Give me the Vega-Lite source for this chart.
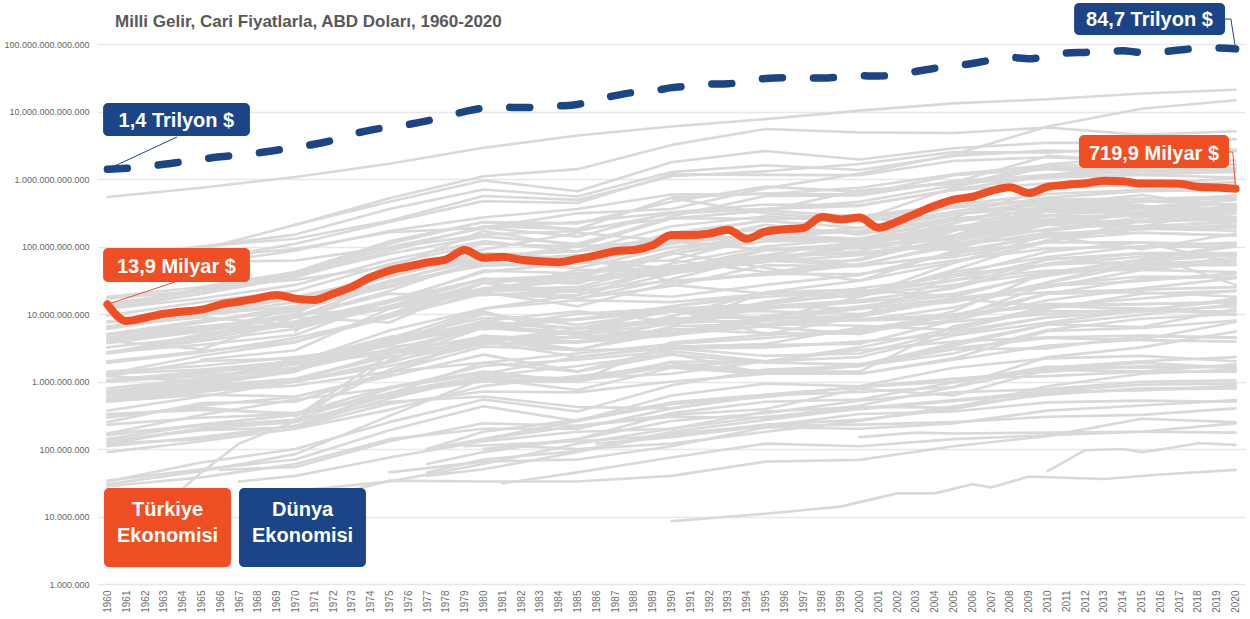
{
"$schema":"https://vega.github.io/schema/vega-lite/v6.json",
"width":1147,"height":540,
"autosize":{"type":"none"},
"padding":{"left":98,"top":44,"right":5,"bottom":35},
"background":"white",
"config":{
"locale":{"number":{"decimal":",","thousands":".","grouping":[3],"currency":["","$"]}},
"view":{"stroke":null},
"font":"Liberation Sans, Arial, sans-serif",
"axis":{"domain":false,"ticks":false,"title":null},
"axisX":{"labelOverlap":false,"labelFlush":false,"labelBound":false,"labelSeparation":0,"tickCount":100},
"axisY":{"labelOverlap":false}
},
"title":{"text":"Milli Gelir, Cari Fiyatlarla, ABD Doları, 1960-2020","anchor":"start","frame":"group","dx":17,"offset":-41,"baseline":"alphabetic","fontSize":17,"fontWeight":"bold","color":"#595959","font":"Liberation Sans, Arial, sans-serif"},
"datasets":{
"gray":[
{"c":"US","yr":1960,"v":5.4e11},{"c":"US","yr":1965,"v":7.4e11},{"c":"US","yr":1970,"v":1.07e12},{"c":"US","yr":1975,"v":1.68e12},{"c":"US","yr":1980,"v":2.9e12},{"c":"US","yr":1985,"v":4.4e12},{"c":"US","yr":1990,"v":6.0e12},{"c":"US","yr":1995,"v":7.7e12},{"c":"US","yr":2000,"v":1.03e13},{"c":"US","yr":2005,"v":1.32e13},{"c":"US","yr":2010,"v":1.52e13},{"c":"US","yr":2015,"v":1.85e13},{"c":"US","yr":2020,"v":2.1e13},
{"c":"CN","yr":1960,"v":6.0e10},{"c":"CN","yr":1965,"v":7.0e10},{"c":"CN","yr":1970,"v":9.2e10},{"c":"CN","yr":1975,"v":1.63e11},{"c":"CN","yr":1980,"v":1.9e11},{"c":"CN","yr":1985,"v":3.1e11},{"c":"CN","yr":1990,"v":3.6e11},{"c":"CN","yr":1995,"v":7.3e11},{"c":"CN","yr":2000,"v":1.2e12},{"c":"CN","yr":2005,"v":2.3e12},{"c":"CN","yr":2010,"v":6.0e12},{"c":"CN","yr":2015,"v":1.1e13},{"c":"CN","yr":2020,"v":1.47e13},
{"c":"JP","yr":1960,"v":4.4e10},{"c":"JP","yr":1965,"v":9.1e10},{"c":"JP","yr":1970,"v":2.1e11},{"c":"JP","yr":1975,"v":5.2e11},{"c":"JP","yr":1980,"v":1.1e12},{"c":"JP","yr":1985,"v":1.4e12},{"c":"JP","yr":1990,"v":3.2e12},{"c":"JP","yr":1995,"v":5.5e12},{"c":"JP","yr":2000,"v":4.9e12},{"c":"JP","yr":2005,"v":4.8e12},{"c":"JP","yr":2010,"v":5.8e12},{"c":"JP","yr":2015,"v":4.5e12},{"c":"JP","yr":2020,"v":5.1e12},
{"c":"DE","yr":1970,"v":2.1e11},{"c":"DE","yr":1975,"v":4.6e11},{"c":"DE","yr":1980,"v":9.5e11},{"c":"DE","yr":1985,"v":6.6e11},{"c":"DE","yr":1990,"v":1.77e12},{"c":"DE","yr":1995,"v":2.6e12},{"c":"DE","yr":2000,"v":1.95e12},{"c":"DE","yr":2005,"v":2.85e12},{"c":"DE","yr":2010,"v":3.45e12},{"c":"DE","yr":2015,"v":3.4e12},{"c":"DE","yr":2020,"v":3.9e12},
{"c":"GB","yr":1960,"v":7.3e10},{"c":"GB","yr":1965,"v":1.0e11},{"c":"GB","yr":1970,"v":1.3e11},{"c":"GB","yr":1975,"v":2.4e11},{"c":"GB","yr":1980,"v":5.6e11},{"c":"GB","yr":1985,"v":4.9e11},{"c":"GB","yr":1990,"v":1.1e12},{"c":"GB","yr":1995,"v":1.3e12},{"c":"GB","yr":2000,"v":1.67e12},{"c":"GB","yr":2005,"v":2.5e12},{"c":"GB","yr":2010,"v":2.45e12},{"c":"GB","yr":2015,"v":2.9e12},{"c":"GB","yr":2020,"v":2.7e12},
{"c":"FR","yr":1960,"v":6.2e10},{"c":"FR","yr":1965,"v":1.0e11},{"c":"FR","yr":1970,"v":1.5e11},{"c":"FR","yr":1975,"v":3.6e11},{"c":"FR","yr":1980,"v":7.0e11},{"c":"FR","yr":1985,"v":5.5e11},{"c":"FR","yr":1990,"v":1.27e12},{"c":"FR","yr":1995,"v":1.6e12},{"c":"FR","yr":2000,"v":1.36e12},{"c":"FR","yr":2005,"v":2.2e12},{"c":"FR","yr":2010,"v":2.65e12},{"c":"FR","yr":2015,"v":2.45e12},{"c":"FR","yr":2020,"v":2.65e12},
{"c":"IN","yr":1960,"v":3.7e10},{"c":"IN","yr":1965,"v":5.9e10},{"c":"IN","yr":1970,"v":6.2e10},{"c":"IN","yr":1975,"v":9.8e10},{"c":"IN","yr":1980,"v":1.86e11},{"c":"IN","yr":1985,"v":2.3e11},{"c":"IN","yr":1990,"v":3.2e11},{"c":"IN","yr":1995,"v":3.6e11},{"c":"IN","yr":2000,"v":4.6e11},{"c":"IN","yr":2005,"v":8.0e11},{"c":"IN","yr":2010,"v":1.65e12},{"c":"IN","yr":2015,"v":2.1e12},{"c":"IN","yr":2020,"v":2.6e12},
{"c":"IT","yr":1960,"v":4.0e10},{"c":"IT","yr":1965,"v":6.3e10},{"c":"IT","yr":1970,"v":1.1e11},{"c":"IT","yr":1975,"v":2.3e11},{"c":"IT","yr":1980,"v":4.7e11},{"c":"IT","yr":1985,"v":4.4e11},{"c":"IT","yr":1990,"v":1.17e12},{"c":"IT","yr":1995,"v":1.15e12},{"c":"IT","yr":2000,"v":1.14e12},{"c":"IT","yr":2005,"v":1.85e12},{"c":"IT","yr":2010,"v":2.1e12},{"c":"IT","yr":2015,"v":1.83e12},{"c":"IT","yr":2020,"v":1.87e12},
{"c":"BR","yr":1960,"v":1.7e10},{"c":"BR","yr":1965,"v":2.2e10},{"c":"BR","yr":1970,"v":4.2e10},{"c":"BR","yr":1975,"v":1.2e11},{"c":"BR","yr":1980,"v":2.3e11},{"c":"BR","yr":1985,"v":2.2e11},{"c":"BR","yr":1990,"v":4.6e11},{"c":"BR","yr":1995,"v":7.7e11},{"c":"BR","yr":2000,"v":6.5e11},{"c":"BR","yr":2005,"v":8.9e11},{"c":"BR","yr":2010,"v":2.2e12},{"c":"BR","yr":2015,"v":1.8e12},{"c":"BR","yr":2020,"v":1.4e12},
{"c":"CA","yr":1960,"v":4.0e10},{"c":"CA","yr":1965,"v":5.5e10},{"c":"CA","yr":1970,"v":8.7e10},{"c":"CA","yr":1975,"v":1.7e11},{"c":"CA","yr":1980,"v":2.7e11},{"c":"CA","yr":1985,"v":3.6e11},{"c":"CA","yr":1990,"v":5.9e11},{"c":"CA","yr":1995,"v":6.0e11},{"c":"CA","yr":2000,"v":7.4e11},{"c":"CA","yr":2005,"v":1.17e12},{"c":"CA","yr":2010,"v":1.6e12},{"c":"CA","yr":2015,"v":1.55e12},{"c":"CA","yr":2020,"v":1.63e12},
{"c":"KR","yr":1960,"v":4.0e9},{"c":"KR","yr":1965,"v":3.0e9},{"c":"KR","yr":1970,"v":9.0e9},{"c":"KR","yr":1975,"v":2.2e10},{"c":"KR","yr":1980,"v":6.5e10},{"c":"KR","yr":1985,"v":1.0e11},{"c":"KR","yr":1990,"v":2.8e11},{"c":"KR","yr":1995,"v":5.6e11},{"c":"KR","yr":2000,"v":5.7e11},{"c":"KR","yr":2005,"v":9.3e11},{"c":"KR","yr":2010,"v":1.15e12},{"c":"KR","yr":2015,"v":1.47e12},{"c":"KR","yr":2020,"v":1.65e12},
{"c":"RU","yr":1990,"v":5.2e11},{"c":"RU","yr":1995,"v":3.1e11},{"c":"RU","yr":2000,"v":2.5e11},{"c":"RU","yr":2005,"v":7.5e11},{"c":"RU","yr":2010,"v":1.5e12},{"c":"RU","yr":2015,"v":1.33e12},{"c":"RU","yr":2020,"v":1.45e12},
{"c":"AU","yr":1960,"v":1.8e10},{"c":"AU","yr":1965,"v":2.5e10},{"c":"AU","yr":1970,"v":4.2e10},{"c":"AU","yr":1975,"v":9.5e10},{"c":"AU","yr":1980,"v":1.5e11},{"c":"AU","yr":1985,"v":1.7e11},{"c":"AU","yr":1990,"v":3.05e11},{"c":"AU","yr":1995,"v":3.6e11},{"c":"AU","yr":2000,"v":4.0e11},{"c":"AU","yr":2005,"v":7.0e11},{"c":"AU","yr":2010,"v":1.1e12},{"c":"AU","yr":2015,"v":1.3e12},{"c":"AU","yr":2020,"v":1.3e12},
{"c":"MX","yr":1960,"v":1.3e10},{"c":"MX","yr":1965,"v":2.0e10},{"c":"MX","yr":1970,"v":3.5e10},{"c":"MX","yr":1975,"v":8.6e10},{"c":"MX","yr":1980,"v":2.0e11},{"c":"MX","yr":1985,"v":1.8e11},{"c":"MX","yr":1990,"v":2.6e11},{"c":"MX","yr":1995,"v":3.4e11},{"c":"MX","yr":2000,"v":6.8e11},{"c":"MX","yr":2005,"v":8.5e11},{"c":"MX","yr":2010,"v":1.05e12},{"c":"MX","yr":2015,"v":1.15e12},{"c":"MX","yr":2020,"v":1.05e12},
{"c":"ES","yr":1960,"v":1.2e10},{"c":"ES","yr":1965,"v":2.4e10},{"c":"ES","yr":1970,"v":4.0e10},{"c":"ES","yr":1975,"v":1.1e11},{"c":"ES","yr":1980,"v":2.3e11},{"c":"ES","yr":1985,"v":1.8e11},{"c":"ES","yr":1990,"v":5.3e11},{"c":"ES","yr":1995,"v":6.1e11},{"c":"ES","yr":2000,"v":5.9e11},{"c":"ES","yr":2005,"v":1.14e12},{"c":"ES","yr":2010,"v":1.4e12},{"c":"ES","yr":2015,"v":1.18e12},{"c":"ES","yr":2020,"v":1.27e12},
{"c":"NL","yr":1960,"v":1.2e10},{"c":"NL","yr":1965,"v":2.0e10},{"c":"NL","yr":1970,"v":3.8e10},{"c":"NL","yr":1975,"v":9.5e10},{"c":"NL","yr":1980,"v":1.9e11},{"c":"NL","yr":1985,"v":1.4e11},{"c":"NL","yr":1990,"v":3.2e11},{"c":"NL","yr":1995,"v":4.2e11},{"c":"NL","yr":2000,"v":4.1e11},{"c":"NL","yr":2005,"v":6.8e11},{"c":"NL","yr":2010,"v":8.6e11},{"c":"NL","yr":2015,"v":7.7e11},{"c":"NL","yr":2020,"v":9.0e11},
{"c":"SA","yr":1970,"v":5.5e9},{"c":"SA","yr":1975,"v":4.8e10},{"c":"SA","yr":1980,"v":1.7e11},{"c":"SA","yr":1985,"v":1.0e11},{"c":"SA","yr":1990,"v":1.2e11},{"c":"SA","yr":1995,"v":1.45e11},{"c":"SA","yr":2000,"v":1.9e11},{"c":"SA","yr":2005,"v":3.3e11},{"c":"SA","yr":2010,"v":5.3e11},{"c":"SA","yr":2015,"v":6.6e11},{"c":"SA","yr":2020,"v":6.9e11},
{"c":"CH","yr":1960,"v":9.5e9},{"c":"CH","yr":1965,"v":1.5e10},{"c":"CH","yr":1970,"v":2.2e10},{"c":"CH","yr":1975,"v":5.5e10},{"c":"CH","yr":1980,"v":1.1e11},{"c":"CH","yr":1985,"v":1.0e11},{"c":"CH","yr":1990,"v":2.6e11},{"c":"CH","yr":1995,"v":3.4e11},{"c":"CH","yr":2000,"v":2.8e11},{"c":"CH","yr":2005,"v":4.1e11},{"c":"CH","yr":2010,"v":6.0e11},{"c":"CH","yr":2015,"v":6.9e11},{"c":"CH","yr":2020,"v":7.3e11},
{"c":"ID","yr":1970,"v":9.0e9},{"c":"ID","yr":1975,"v":2.9e10},{"c":"ID","yr":1980,"v":7.2e10},{"c":"ID","yr":1985,"v":8.5e10},{"c":"ID","yr":1990,"v":1.1e11},{"c":"ID","yr":1995,"v":2.1e11},{"c":"ID","yr":2000,"v":1.5e11},{"c":"ID","yr":2005,"v":2.7e11},{"c":"ID","yr":2010,"v":7.2e11},{"c":"ID","yr":2015,"v":8.3e11},{"c":"ID","yr":2020,"v":1.03e12},
{"c":"SE","yr":1960,"v":1.4e10},{"c":"SE","yr":1965,"v":2.2e10},{"c":"SE","yr":1970,"v":3.7e10},{"c":"SE","yr":1975,"v":7.8e10},{"c":"SE","yr":1980,"v":1.4e11},{"c":"SE","yr":1985,"v":1.1e11},{"c":"SE","yr":1990,"v":2.6e11},{"c":"SE","yr":1995,"v":2.6e11},{"c":"SE","yr":2000,"v":2.6e11},{"c":"SE","yr":2005,"v":3.9e11},{"c":"SE","yr":2010,"v":5.0e11},{"c":"SE","yr":2015,"v":5.1e11},{"c":"SE","yr":2020,"v":5.5e11},
{"c":"BE","yr":1960,"v":1.2e10},{"c":"BE","yr":1965,"v":1.7e10},{"c":"BE","yr":1970,"v":2.7e10},{"c":"BE","yr":1975,"v":6.3e10},{"c":"BE","yr":1980,"v":1.2e11},{"c":"BE","yr":1985,"v":8.5e10},{"c":"BE","yr":1990,"v":2.0e11},{"c":"BE","yr":1995,"v":2.8e11},{"c":"BE","yr":2000,"v":2.3e11},{"c":"BE","yr":2005,"v":3.8e11},{"c":"BE","yr":2010,"v":4.8e11},{"c":"BE","yr":2015,"v":4.6e11},{"c":"BE","yr":2020,"v":5.2e11},
{"c":"AR","yr":1965,"v":2.5e10},{"c":"AR","yr":1970,"v":3.2e10},{"c":"AR","yr":1975,"v":5.1e10},{"c":"AR","yr":1980,"v":7.5e10},{"c":"AR","yr":1985,"v":8.5e10},{"c":"AR","yr":1990,"v":1.4e11},{"c":"AR","yr":1995,"v":2.5e11},{"c":"AR","yr":2000,"v":2.8e11},{"c":"AR","yr":2005,"v":1.8e11},{"c":"AR","yr":2010,"v":4.2e11},{"c":"AR","yr":2015,"v":5.8e11},{"c":"AR","yr":2020,"v":3.8e11},
{"c":"PL","yr":1990,"v":6.3e10},{"c":"PL","yr":1995,"v":1.4e11},{"c":"PL","yr":2000,"v":1.7e11},{"c":"PL","yr":2005,"v":3.0e11},{"c":"PL","yr":2010,"v":4.7e11},{"c":"PL","yr":2015,"v":4.6e11},{"c":"PL","yr":2020,"v":5.7e11},
{"c":"IR","yr":1960,"v":4.0e9},{"c":"IR","yr":1965,"v":6.0e9},{"c":"IR","yr":1970,"v":1.0e10},{"c":"IR","yr":1975,"v":5.0e10},{"c":"IR","yr":1980,"v":9.0e10},{"c":"IR","yr":1985,"v":1.6e11},{"c":"IR","yr":1990,"v":1.2e11},{"c":"IR","yr":1995,"v":9.0e10},{"c":"IR","yr":2000,"v":1.1e11},{"c":"IR","yr":2005,"v":2.2e11},{"c":"IR","yr":2010,"v":4.8e11},{"c":"IR","yr":2015,"v":4.1e11},{"c":"IR","yr":2020,"v":2.3e11},
{"c":"NG","yr":1960,"v":4.0e9},{"c":"NG","yr":1965,"v":5.5e9},{"c":"NG","yr":1970,"v":1.2e10},{"c":"NG","yr":1975,"v":2.6e10},{"c":"NG","yr":1980,"v":6.0e10},{"c":"NG","yr":1985,"v":7.5e10},{"c":"NG","yr":1990,"v":3.0e10},{"c":"NG","yr":1995,"v":4.0e10},{"c":"NG","yr":2000,"v":6.5e10},{"c":"NG","yr":2005,"v":1.7e11},{"c":"NG","yr":2010,"v":3.5e11},{"c":"NG","yr":2015,"v":4.7e11},{"c":"NG","yr":2020,"v":4.2e11},
{"c":"ZA","yr":1960,"v":7.5e9},{"c":"ZA","yr":1965,"v":1.1e10},{"c":"ZA","yr":1970,"v":1.8e10},{"c":"ZA","yr":1975,"v":3.5e10},{"c":"ZA","yr":1980,"v":8.0e10},{"c":"ZA","yr":1985,"v":5.5e10},{"c":"ZA","yr":1990,"v":1.1e11},{"c":"ZA","yr":1995,"v":1.5e11},{"c":"ZA","yr":2000,"v":1.3e11},{"c":"ZA","yr":2005,"v":2.5e11},{"c":"ZA","yr":2010,"v":3.6e11},{"c":"ZA","yr":2015,"v":3.1e11},{"c":"ZA","yr":2020,"v":3.3e11},
{"c":"AT","yr":1960,"v":6.5e9},{"c":"AT","yr":1965,"v":9.5e9},{"c":"AT","yr":1970,"v":1.5e10},{"c":"AT","yr":1975,"v":3.8e10},{"c":"AT","yr":1980,"v":8.0e10},{"c":"AT","yr":1985,"v":6.5e10},{"c":"AT","yr":1990,"v":1.6e11},{"c":"AT","yr":1995,"v":2.4e11},{"c":"AT","yr":2000,"v":1.9e11},{"c":"AT","yr":2005,"v":3.0e11},{"c":"AT","yr":2010,"v":3.8e11},{"c":"AT","yr":2015,"v":3.7e11},{"c":"AT","yr":2020,"v":4.3e11},
{"c":"NO","yr":1960,"v":5.0e9},{"c":"NO","yr":1965,"v":7.5e9},{"c":"NO","yr":1970,"v":1.2e10},{"c":"NO","yr":1975,"v":3.1e10},{"c":"NO","yr":1980,"v":6.5e10},{"c":"NO","yr":1985,"v":6.5e10},{"c":"NO","yr":1990,"v":1.2e11},{"c":"NO","yr":1995,"v":1.5e11},{"c":"NO","yr":2000,"v":1.7e11},{"c":"NO","yr":2005,"v":3.0e11},{"c":"NO","yr":2010,"v":4.3e11},{"c":"NO","yr":2015,"v":3.9e11},{"c":"NO","yr":2020,"v":3.6e11},
{"c":"DK","yr":1960,"v":6.0e9},{"c":"DK","yr":1965,"v":1.0e10},{"c":"DK","yr":1970,"v":1.7e10},{"c":"DK","yr":1975,"v":3.8e10},{"c":"DK","yr":1980,"v":7.0e10},{"c":"DK","yr":1985,"v":6.0e10},{"c":"DK","yr":1990,"v":1.4e11},{"c":"DK","yr":1995,"v":1.8e11},{"c":"DK","yr":2000,"v":1.6e11},{"c":"DK","yr":2005,"v":2.6e11},{"c":"DK","yr":2010,"v":3.3e11},{"c":"DK","yr":2015,"v":3.1e11},{"c":"DK","yr":2020,"v":3.6e11},
{"c":"TH","yr":1960,"v":2.7e9},{"c":"TH","yr":1965,"v":4.3e9},{"c":"TH","yr":1970,"v":7.0e9},{"c":"TH","yr":1975,"v":1.5e10},{"c":"TH","yr":1980,"v":3.2e10},{"c":"TH","yr":1985,"v":3.8e10},{"c":"TH","yr":1990,"v":8.5e10},{"c":"TH","yr":1995,"v":1.6e11},{"c":"TH","yr":2000,"v":1.2e11},{"c":"TH","yr":2005,"v":1.8e11},{"c":"TH","yr":2010,"v":3.3e11},{"c":"TH","yr":2015,"v":3.8e11},{"c":"TH","yr":2020,"v":4.9e11},
{"c":"EG","yr":1965,"v":5.1e9},{"c":"EG","yr":1970,"v":7.6e9},{"c":"EG","yr":1975,"v":1.2e10},{"c":"EG","yr":1980,"v":2.1e10},{"c":"EG","yr":1985,"v":4.5e10},{"c":"EG","yr":1990,"v":4.2e10},{"c":"EG","yr":1995,"v":5.9e10},{"c":"EG","yr":2000,"v":9.9e10},{"c":"EG","yr":2005,"v":9.0e10},{"c":"EG","yr":2010,"v":2.2e11},{"c":"EG","yr":2015,"v":3.3e11},{"c":"EG","yr":2020,"v":3.6e11},
{"c":"PK","yr":1960,"v":3.7e9},{"c":"PK","yr":1965,"v":5.5e9},{"c":"PK","yr":1970,"v":1.0e10},{"c":"PK","yr":1975,"v":1.2e10},{"c":"PK","yr":1980,"v":2.4e10},{"c":"PK","yr":1985,"v":3.1e10},{"c":"PK","yr":1990,"v":4.0e10},{"c":"PK","yr":1995,"v":6.0e10},{"c":"PK","yr":2000,"v":7.4e10},{"c":"PK","yr":2005,"v":1.1e11},{"c":"PK","yr":2010,"v":1.8e11},{"c":"PK","yr":2015,"v":2.7e11},{"c":"PK","yr":2020,"v":3.0e11},
{"c":"CO","yr":1960,"v":4.0e9},{"c":"CO","yr":1965,"v":5.8e9},{"c":"CO","yr":1970,"v":7.2e9},{"c":"CO","yr":1975,"v":1.3e10},{"c":"CO","yr":1980,"v":3.3e10},{"c":"CO","yr":1985,"v":3.4e10},{"c":"CO","yr":1990,"v":4.7e10},{"c":"CO","yr":1995,"v":9.2e10},{"c":"CO","yr":2000,"v":9.9e10},{"c":"CO","yr":2005,"v":1.45e11},{"c":"CO","yr":2010,"v":2.8e11},{"c":"CO","yr":2015,"v":2.9e11},{"c":"CO","yr":2020,"v":2.7e11},
{"c":"MY","yr":1960,"v":1.9e9},{"c":"MY","yr":1965,"v":2.8e9},{"c":"MY","yr":1970,"v":3.9e9},{"c":"MY","yr":1975,"v":9.5e9},{"c":"MY","yr":1980,"v":2.4e10},{"c":"MY","yr":1985,"v":3.1e10},{"c":"MY","yr":1990,"v":4.4e10},{"c":"MY","yr":1995,"v":8.8e10},{"c":"MY","yr":2000,"v":9.4e10},{"c":"MY","yr":2005,"v":1.4e11},{"c":"MY","yr":2010,"v":2.5e11},{"c":"MY","yr":2015,"v":2.9e11},{"c":"MY","yr":2020,"v":3.3e11},
{"c":"PH","yr":1960,"v":6.5e9},{"c":"PH","yr":1965,"v":9.0e9},{"c":"PH","yr":1970,"v":6.8e9},{"c":"PH","yr":1975,"v":1.5e10},{"c":"PH","yr":1980,"v":3.3e10},{"c":"PH","yr":1985,"v":3.1e10},{"c":"PH","yr":1990,"v":4.4e10},{"c":"PH","yr":1995,"v":7.4e10},{"c":"PH","yr":2000,"v":8.1e10},{"c":"PH","yr":2005,"v":1.07e11},{"c":"PH","yr":2010,"v":2.1e11},{"c":"PH","yr":2015,"v":3.1e11},{"c":"PH","yr":2020,"v":3.8e11},
{"c":"CL","yr":1960,"v":4.0e9},{"c":"CL","yr":1965,"v":5.6e9},{"c":"CL","yr":1970,"v":9.0e9},{"c":"CL","yr":1975,"v":7.5e9},{"c":"CL","yr":1980,"v":2.9e10},{"c":"CL","yr":1985,"v":1.7e10},{"c":"CL","yr":1990,"v":3.3e10},{"c":"CL","yr":1995,"v":7.2e10},{"c":"CL","yr":2000,"v":7.8e10},{"c":"CL","yr":2005,"v":1.2e11},{"c":"CL","yr":2010,"v":2.2e11},{"c":"CL","yr":2015,"v":2.4e11},{"c":"CL","yr":2020,"v":2.5e11},
{"c":"FI","yr":1960,"v":5.0e9},{"c":"FI","yr":1965,"v":8.0e9},{"c":"FI","yr":1970,"v":1.1e10},{"c":"FI","yr":1975,"v":2.9e10},{"c":"FI","yr":1980,"v":5.2e10},{"c":"FI","yr":1985,"v":5.6e10},{"c":"FI","yr":1990,"v":1.4e11},{"c":"FI","yr":1995,"v":1.3e11},{"c":"FI","yr":2000,"v":1.26e11},{"c":"FI","yr":2005,"v":2.0e11},{"c":"FI","yr":2010,"v":2.5e11},{"c":"FI","yr":2015,"v":2.3e11},{"c":"FI","yr":2020,"v":2.7e11},
{"c":"GR","yr":1960,"v":4.5e9},{"c":"GR","yr":1965,"v":7.5e9},{"c":"GR","yr":1970,"v":1.3e10},{"c":"GR","yr":1975,"v":2.5e10},{"c":"GR","yr":1980,"v":5.7e10},{"c":"GR","yr":1985,"v":4.8e10},{"c":"GR","yr":1990,"v":9.7e10},{"c":"GR","yr":1995,"v":1.37e11},{"c":"GR","yr":2000,"v":1.3e11},{"c":"GR","yr":2005,"v":2.4e11},{"c":"GR","yr":2010,"v":2.9e11},{"c":"GR","yr":2015,"v":1.9e11},{"c":"GR","yr":2020,"v":1.9e11},
{"c":"PT","yr":1960,"v":3.2e9},{"c":"PT","yr":1965,"v":4.6e9},{"c":"PT","yr":1970,"v":7.8e9},{"c":"PT","yr":1975,"v":1.6e10},{"c":"PT","yr":1980,"v":3.3e10},{"c":"PT","yr":1985,"v":2.8e10},{"c":"PT","yr":1990,"v":7.8e10},{"c":"PT","yr":1995,"v":1.2e11},{"c":"PT","yr":2000,"v":1.2e11},{"c":"PT","yr":2005,"v":1.9e11},{"c":"PT","yr":2010,"v":2.3e11},{"c":"PT","yr":2015,"v":2.0e11},{"c":"PT","yr":2020,"v":2.3e11},
{"c":"IL","yr":1960,"v":2.6e9},{"c":"IL","yr":1965,"v":4.0e9},{"c":"IL","yr":1970,"v":6.0e9},{"c":"IL","yr":1975,"v":1.3e10},{"c":"IL","yr":1980,"v":2.3e10},{"c":"IL","yr":1985,"v":2.5e10},{"c":"IL","yr":1990,"v":5.6e10},{"c":"IL","yr":1995,"v":1.0e11},{"c":"IL","yr":2000,"v":1.3e11},{"c":"IL","yr":2005,"v":1.4e11},{"c":"IL","yr":2010,"v":2.3e11},{"c":"IL","yr":2015,"v":3.0e11},{"c":"IL","yr":2020,"v":4.0e11},
{"c":"NZ","yr":1960,"v":5.0e9},{"c":"NZ","yr":1965,"v":6.5e9},{"c":"NZ","yr":1970,"v":6.5e9},{"c":"NZ","yr":1975,"v":1.3e10},{"c":"NZ","yr":1980,"v":2.2e10},{"c":"NZ","yr":1985,"v":2.3e10},{"c":"NZ","yr":1990,"v":4.5e10},{"c":"NZ","yr":1995,"v":6.2e10},{"c":"NZ","yr":2000,"v":5.3e10},{"c":"NZ","yr":2005,"v":1.1e11},{"c":"NZ","yr":2010,"v":1.4e11},{"c":"NZ","yr":2015,"v":1.8e11},{"c":"NZ","yr":2020,"v":2.1e11},
{"c":"PE","yr":1960,"v":2.6e9},{"c":"PE","yr":1965,"v":5.0e9},{"c":"PE","yr":1970,"v":7.0e9},{"c":"PE","yr":1975,"v":1.6e10},{"c":"PE","yr":1980,"v":2.0e10},{"c":"PE","yr":1985,"v":1.7e10},{"c":"PE","yr":1990,"v":2.6e10},{"c":"PE","yr":1995,"v":5.3e10},{"c":"PE","yr":2000,"v":5.1e10},{"c":"PE","yr":2005,"v":7.6e10},{"c":"PE","yr":2010,"v":1.5e11},{"c":"PE","yr":2015,"v":1.9e11},{"c":"PE","yr":2020,"v":2.0e11},
{"c":"VE","yr":1960,"v":7.8e9},{"c":"VE","yr":1965,"v":9.8e9},{"c":"VE","yr":1970,"v":1.3e10},{"c":"VE","yr":1975,"v":3.0e10},{"c":"VE","yr":1980,"v":7.0e10},{"c":"VE","yr":1985,"v":6.0e10},{"c":"VE","yr":1990,"v":4.8e10},{"c":"VE","yr":1995,"v":7.5e10},{"c":"VE","yr":2000,"v":1.2e11},{"c":"VE","yr":2005,"v":1.45e11},{"c":"VE","yr":2010,"v":3.9e11},{"c":"VE","yr":2014,"v":4.8e11},
{"c":"DZ","yr":1960,"v":2.7e9},{"c":"DZ","yr":1965,"v":3.5e9},{"c":"DZ","yr":1970,"v":4.9e9},{"c":"DZ","yr":1975,"v":1.6e10},{"c":"DZ","yr":1980,"v":4.2e10},{"c":"DZ","yr":1985,"v":5.7e10},{"c":"DZ","yr":1990,"v":6.2e10},{"c":"DZ","yr":1995,"v":4.2e10},{"c":"DZ","yr":2000,"v":5.5e10},{"c":"DZ","yr":2005,"v":1.0e11},{"c":"DZ","yr":2010,"v":1.6e11},{"c":"DZ","yr":2015,"v":1.6e11},{"c":"DZ","yr":2020,"v":1.45e11},
{"c":"IE","yr":1960,"v":1.9e9},{"c":"IE","yr":1965,"v":2.7e9},{"c":"IE","yr":1970,"v":4.4e9},{"c":"IE","yr":1975,"v":9.1e9},{"c":"IE","yr":1980,"v":2.0e10},{"c":"IE","yr":1985,"v":1.9e10},{"c":"IE","yr":1990,"v":4.8e10},{"c":"IE","yr":1995,"v":6.9e10},{"c":"IE","yr":2000,"v":8.5e10},{"c":"IE","yr":2005,"v":1.8e11},{"c":"IE","yr":2010,"v":1.7e11},{"c":"IE","yr":2015,"v":2.4e11},{"c":"IE","yr":2020,"v":3.4e11},
{"c":"BD","yr":1960,"v":4.3e9},{"c":"BD","yr":1965,"v":6.5e9},{"c":"BD","yr":1970,"v":9.0e9},{"c":"BD","yr":1975,"v":2.0e10},{"c":"BD","yr":1980,"v":1.9e10},{"c":"BD","yr":1985,"v":2.2e10},{"c":"BD","yr":1990,"v":3.1e10},{"c":"BD","yr":1995,"v":3.8e10},{"c":"BD","yr":2000,"v":5.3e10},{"c":"BD","yr":2005,"v":7.0e10},{"c":"BD","yr":2010,"v":1.2e11},{"c":"BD","yr":2015,"v":2.0e11},{"c":"BD","yr":2020,"v":3.6e11},
{"c":"KE","yr":1960,"v":7.9e8},{"c":"KE","yr":1965,"v":1.1e9},{"c":"KE","yr":1970,"v":1.6e9},{"c":"KE","yr":1975,"v":3.5e9},{"c":"KE","yr":1980,"v":7.3e9},{"c":"KE","yr":1985,"v":6.1e9},{"c":"KE","yr":1990,"v":8.6e9},{"c":"KE","yr":1995,"v":9.0e9},{"c":"KE","yr":2000,"v":1.3e10},{"c":"KE","yr":2005,"v":1.9e10},{"c":"KE","yr":2010,"v":4.0e10},{"c":"KE","yr":2015,"v":6.4e10},{"c":"KE","yr":2020,"v":1.0e11},
{"c":"MA","yr":1960,"v":2.0e9},{"c":"MA","yr":1965,"v":2.8e9},{"c":"MA","yr":1970,"v":3.9e9},{"c":"MA","yr":1975,"v":8.9e9},{"c":"MA","yr":1980,"v":2.1e10},{"c":"MA","yr":1985,"v":1.3e10},{"c":"MA","yr":1990,"v":2.9e10},{"c":"MA","yr":1995,"v":3.9e10},{"c":"MA","yr":2000,"v":3.9e10},{"c":"MA","yr":2005,"v":6.2e10},{"c":"MA","yr":2010,"v":9.3e10},{"c":"MA","yr":2015,"v":1.0e11},{"c":"MA","yr":2020,"v":1.14e11},
{"c":"GH","yr":1960,"v":1.2e9},{"c":"GH","yr":1965,"v":2.0e9},{"c":"GH","yr":1970,"v":2.2e9},{"c":"GH","yr":1975,"v":2.8e9},{"c":"GH","yr":1980,"v":4.4e9},{"c":"GH","yr":1985,"v":4.5e9},{"c":"GH","yr":1990,"v":5.9e9},{"c":"GH","yr":1995,"v":6.5e9},{"c":"GH","yr":2000,"v":5.0e9},{"c":"GH","yr":2005,"v":1.1e10},{"c":"GH","yr":2010,"v":4.2e10},{"c":"GH","yr":2015,"v":4.9e10},{"c":"GH","yr":2020,"v":6.8e10},
{"c":"LK","yr":1960,"v":1.4e9},{"c":"LK","yr":1965,"v":1.7e9},{"c":"LK","yr":1970,"v":2.3e9},{"c":"LK","yr":1975,"v":3.3e9},{"c":"LK","yr":1980,"v":4.0e9},{"c":"LK","yr":1985,"v":6.0e9},{"c":"LK","yr":1990,"v":8.0e9},{"c":"LK","yr":1995,"v":1.3e10},{"c":"LK","yr":2000,"v":1.6e10},{"c":"LK","yr":2005,"v":2.4e10},{"c":"LK","yr":2010,"v":5.6e10},{"c":"LK","yr":2015,"v":8.0e10},{"c":"LK","yr":2020,"v":8.0e10},
{"c":"SD","yr":1960,"v":1.3e9},{"c":"SD","yr":1965,"v":1.5e9},{"c":"SD","yr":1970,"v":2.0e9},{"c":"SD","yr":1975,"v":4.1e9},{"c":"SD","yr":1980,"v":7.5e9},{"c":"SD","yr":1985,"v":6.1e9},{"c":"SD","yr":1990,"v":1.1e10},{"c":"SD","yr":1995,"v":1.3e10},{"c":"SD","yr":2000,"v":1.2e10},{"c":"SD","yr":2005,"v":2.6e10},{"c":"SD","yr":2010,"v":6.4e10},{"c":"SD","yr":2015,"v":8.0e10},{"c":"SD","yr":2020,"v":2.7e10},
{"c":"ZM","yr":1960,"v":7.0e8},{"c":"ZM","yr":1965,"v":1.1e9},{"c":"ZM","yr":1970,"v":1.8e9},{"c":"ZM","yr":1975,"v":2.6e9},{"c":"ZM","yr":1980,"v":3.9e9},{"c":"ZM","yr":1985,"v":2.3e9},{"c":"ZM","yr":1990,"v":3.3e9},{"c":"ZM","yr":1995,"v":3.5e9},{"c":"ZM","yr":2000,"v":3.6e9},{"c":"ZM","yr":2005,"v":8.0e9},{"c":"ZM","yr":2010,"v":2.0e10},{"c":"ZM","yr":2015,"v":2.1e10},{"c":"ZM","yr":2020,"v":1.8e10},
{"c":"CI","yr":1960,"v":5.5e8},{"c":"CI","yr":1965,"v":9.4e8},{"c":"CI","yr":1970,"v":1.5e9},{"c":"CI","yr":1975,"v":3.5e9},{"c":"CI","yr":1980,"v":1.0e10},{"c":"CI","yr":1985,"v":6.9e9},{"c":"CI","yr":1990,"v":1.1e10},{"c":"CI","yr":1995,"v":1.1e10},{"c":"CI","yr":2000,"v":1.0e10},{"c":"CI","yr":2005,"v":1.7e10},{"c":"CI","yr":2010,"v":2.5e10},{"c":"CI","yr":2015,"v":4.5e10},{"c":"CI","yr":2020,"v":6.0e10},
{"c":"CM","yr":1960,"v":6.2e8},{"c":"CM","yr":1965,"v":8.2e8},{"c":"CM","yr":1970,"v":1.1e9},{"c":"CM","yr":1975,"v":2.5e9},{"c":"CM","yr":1980,"v":6.7e9},{"c":"CM","yr":1985,"v":8.2e9},{"c":"CM","yr":1990,"v":1.1e10},{"c":"CM","yr":1995,"v":8.7e9},{"c":"CM","yr":2000,"v":9.3e9},{"c":"CM","yr":2005,"v":1.6e10},{"c":"CM","yr":2010,"v":2.6e10},{"c":"CM","yr":2015,"v":3.1e10},{"c":"CM","yr":2020,"v":4.0e10},
{"c":"UY","yr":1960,"v":1.2e9},{"c":"UY","yr":1965,"v":1.0e9},{"c":"UY","yr":1970,"v":2.2e9},{"c":"UY","yr":1975,"v":3.8e9},{"c":"UY","yr":1980,"v":1.1e10},{"c":"UY","yr":1985,"v":4.6e9},{"c":"UY","yr":1990,"v":9.3e9},{"c":"UY","yr":1995,"v":2.1e10},{"c":"UY","yr":2000,"v":2.3e10},{"c":"UY","yr":2005,"v":1.8e10},{"c":"UY","yr":2010,"v":4.0e10},{"c":"UY","yr":2015,"v":5.3e10},{"c":"UY","yr":2020,"v":5.3e10},
{"c":"BO","yr":1960,"v":3.7e8},{"c":"BO","yr":1965,"v":6.0e8},{"c":"BO","yr":1970,"v":1.0e9},{"c":"BO","yr":1975,"v":2.7e9},{"c":"BO","yr":1980,"v":4.6e9},{"c":"BO","yr":1985,"v":4.5e9},{"c":"BO","yr":1990,"v":4.9e9},{"c":"BO","yr":1995,"v":6.7e9},{"c":"BO","yr":2000,"v":8.4e9},{"c":"BO","yr":2005,"v":9.6e9},{"c":"BO","yr":2010,"v":2.0e10},{"c":"BO","yr":2015,"v":3.3e10},{"c":"BO","yr":2020,"v":3.6e10},
{"c":"NP","yr":1960,"v":5.1e8},{"c":"NP","yr":1965,"v":7.3e8},{"c":"NP","yr":1970,"v":8.7e8},{"c":"NP","yr":1975,"v":1.4e9},{"c":"NP","yr":1980,"v":1.9e9},{"c":"NP","yr":1985,"v":2.6e9},{"c":"NP","yr":1990,"v":3.6e9},{"c":"NP","yr":1995,"v":4.4e9},{"c":"NP","yr":2000,"v":5.5e9},{"c":"NP","yr":2005,"v":8.1e9},{"c":"NP","yr":2010,"v":1.6e10},{"c":"NP","yr":2015,"v":2.4e10},{"c":"NP","yr":2020,"v":3.4e10},
{"c":"RW","yr":1960,"v":1.2e8},{"c":"RW","yr":1965,"v":1.4e8},{"c":"RW","yr":1970,"v":2.2e8},{"c":"RW","yr":1975,"v":5.6e8},{"c":"RW","yr":1980,"v":1.2e9},{"c":"RW","yr":1985,"v":1.7e9},{"c":"RW","yr":1990,"v":2.6e9},{"c":"RW","yr":1995,"v":1.3e9},{"c":"RW","yr":2000,"v":1.7e9},{"c":"RW","yr":2005,"v":2.6e9},{"c":"RW","yr":2010,"v":5.8e9},{"c":"RW","yr":2015,"v":8.5e9},{"c":"RW","yr":2020,"v":1.0e10},
{"c":"BF","yr":1960,"v":3.3e8},{"c":"BF","yr":1965,"v":3.8e8},{"c":"BF","yr":1970,"v":3.4e8},{"c":"BF","yr":1975,"v":6.6e8},{"c":"BF","yr":1980,"v":1.9e9},{"c":"BF","yr":1985,"v":1.4e9},{"c":"BF","yr":1990,"v":3.1e9},{"c":"BF","yr":1995,"v":2.4e9},{"c":"BF","yr":2000,"v":2.6e9},{"c":"BF","yr":2005,"v":5.5e9},{"c":"BF","yr":2010,"v":8.9e9},{"c":"BF","yr":2015,"v":1.1e10},{"c":"BF","yr":2020,"v":1.7e10},
{"c":"MW","yr":1960,"v":1.6e8},{"c":"MW","yr":1965,"v":2.3e8},{"c":"MW","yr":1970,"v":3.2e8},{"c":"MW","yr":1975,"v":6.1e8},{"c":"MW","yr":1980,"v":1.2e9},{"c":"MW","yr":1985,"v":1.1e9},{"c":"MW","yr":1990,"v":1.9e9},{"c":"MW","yr":1995,"v":1.4e9},{"c":"MW","yr":2000,"v":1.7e9},{"c":"MW","yr":2005,"v":3.7e9},{"c":"MW","yr":2010,"v":7.0e9},{"c":"MW","yr":2015,"v":6.4e9},{"c":"MW","yr":2020,"v":1.2e10},
{"c":"TD","yr":1960,"v":3.1e8},{"c":"TD","yr":1965,"v":4.1e8},{"c":"TD","yr":1970,"v":3.2e8},{"c":"TD","yr":1975,"v":6.7e8},{"c":"TD","yr":1980,"v":1.0e9},{"c":"TD","yr":1985,"v":1.0e9},{"c":"TD","yr":1990,"v":1.7e9},{"c":"TD","yr":1995,"v":1.4e9},{"c":"TD","yr":2000,"v":1.4e9},{"c":"TD","yr":2005,"v":6.6e9},{"c":"TD","yr":2010,"v":1.1e10},{"c":"TD","yr":2015,"v":1.1e10},{"c":"TD","yr":2020,"v":1.1e10},
{"c":"NE","yr":1960,"v":5.0e8},{"c":"NE","yr":1965,"v":6.4e8},{"c":"NE","yr":1970,"v":6.0e8},{"c":"NE","yr":1975,"v":1.2e9},{"c":"NE","yr":1980,"v":2.5e9},{"c":"NE","yr":1985,"v":1.4e9},{"c":"NE","yr":1990,"v":2.5e9},{"c":"NE","yr":1995,"v":1.9e9},{"c":"NE","yr":2000,"v":1.8e9},{"c":"NE","yr":2005,"v":3.4e9},{"c":"NE","yr":2010,"v":7.0e9},{"c":"NE","yr":2015,"v":9.7e9},{"c":"NE","yr":2020,"v":1.4e10},
{"c":"FJ","yr":1960,"v":1.1e8},{"c":"FJ","yr":1965,"v":1.5e8},{"c":"FJ","yr":1970,"v":2.2e8},{"c":"FJ","yr":1975,"v":6.8e8},{"c":"FJ","yr":1980,"v":1.2e9},{"c":"FJ","yr":1985,"v":1.1e9},{"c":"FJ","yr":1990,"v":1.3e9},{"c":"FJ","yr":1995,"v":2.0e9},{"c":"FJ","yr":2000,"v":1.7e9},{"c":"FJ","yr":2005,"v":3.0e9},{"c":"FJ","yr":2010,"v":3.1e9},{"c":"FJ","yr":2015,"v":4.7e9},{"c":"FJ","yr":2020,"v":4.5e9},
{"c":"BZ","yr":1960,"v":2.8e7},{"c":"BZ","yr":1965,"v":3.8e7},{"c":"BZ","yr":1970,"v":6.0e7},{"c":"BZ","yr":1975,"v":1.4e8},{"c":"BZ","yr":1980,"v":2.0e8},{"c":"BZ","yr":1985,"v":2.0e8},{"c":"BZ","yr":1990,"v":4.0e8},{"c":"BZ","yr":1995,"v":6.2e8},{"c":"BZ","yr":2000,"v":8.3e8},{"c":"BZ","yr":2005,"v":1.1e9},{"c":"BZ","yr":2010,"v":1.4e9},{"c":"BZ","yr":2015,"v":1.7e9},{"c":"BZ","yr":2020,"v":1.6e9},
{"c":"GY","yr":1960,"v":1.7e8},{"c":"GY","yr":1965,"v":2.2e8},{"c":"GY","yr":1970,"v":2.7e8},{"c":"GY","yr":1975,"v":5.0e8},{"c":"GY","yr":1980,"v":6.0e8},{"c":"GY","yr":1985,"v":4.2e8},{"c":"GY","yr":1990,"v":4.0e8},{"c":"GY","yr":1995,"v":6.2e8},{"c":"GY","yr":2000,"v":7.0e8},{"c":"GY","yr":2005,"v":8.3e8},{"c":"GY","yr":2010,"v":2.3e9},{"c":"GY","yr":2015,"v":3.2e9},{"c":"GY","yr":2020,"v":5.5e9},
{"c":"LS","yr":1960,"v":3.4e7},{"c":"LS","yr":1965,"v":5.0e7},{"c":"LS","yr":1970,"v":7.0e7},{"c":"LS","yr":1975,"v":1.9e8},{"c":"LS","yr":1980,"v":4.3e8},{"c":"LS","yr":1985,"v":2.6e8},{"c":"LS","yr":1990,"v":6.2e8},{"c":"LS","yr":1995,"v":9.3e8},{"c":"LS","yr":2000,"v":8.5e8},{"c":"LS","yr":2005,"v":1.6e9},{"c":"LS","yr":2010,"v":2.2e9},{"c":"LS","yr":2015,"v":2.4e9},{"c":"LS","yr":2020,"v":2.0e9},
{"c":"BW","yr":1960,"v":3.0e7},{"c":"BW","yr":1965,"v":4.7e7},{"c":"BW","yr":1970,"v":8.4e7},{"c":"BW","yr":1975,"v":3.1e8},{"c":"BW","yr":1980,"v":1.1e9},{"c":"BW","yr":1985,"v":1.0e9},{"c":"BW","yr":1990,"v":3.8e9},{"c":"BW","yr":1995,"v":4.9e9},{"c":"BW","yr":2000,"v":5.8e9},{"c":"BW","yr":2005,"v":9.9e9},{"c":"BW","yr":2010,"v":1.3e10},{"c":"BW","yr":2015,"v":1.4e10},{"c":"BW","yr":2020,"v":1.5e10},
{"c":"SZ","yr":1960,"v":3.3e7},{"c":"SZ","yr":1965,"v":6.3e7},{"c":"SZ","yr":1970,"v":1.0e8},{"c":"SZ","yr":1975,"v":2.5e8},{"c":"SZ","yr":1980,"v":5.4e8},{"c":"SZ","yr":1985,"v":3.6e8},{"c":"SZ","yr":1990,"v":8.8e8},{"c":"SZ","yr":1995,"v":1.5e9},{"c":"SZ","yr":2000,"v":1.7e9},{"c":"SZ","yr":2005,"v":3.1e9},{"c":"SZ","yr":2010,"v":4.4e9},{"c":"SZ","yr":2015,"v":4.1e9},{"c":"SZ","yr":2020,"v":3.9e9},
{"c":"TG","yr":1960,"v":1.2e8},{"c":"TG","yr":1965,"v":2.0e8},{"c":"TG","yr":1970,"v":2.5e8},{"c":"TG","yr":1975,"v":6.2e8},{"c":"TG","yr":1980,"v":1.1e9},{"c":"TG","yr":1985,"v":7.5e8},{"c":"TG","yr":1990,"v":1.6e9},{"c":"TG","yr":1995,"v":1.3e9},{"c":"TG","yr":2000,"v":1.3e9},{"c":"TG","yr":2005,"v":2.1e9},{"c":"TG","yr":2010,"v":3.4e9},{"c":"TG","yr":2015,"v":4.2e9},{"c":"TG","yr":2020,"v":7.6e9},
{"c":"BJ","yr":1960,"v":2.3e8},{"c":"BJ","yr":1965,"v":2.9e8},{"c":"BJ","yr":1970,"v":3.3e8},{"c":"BJ","yr":1975,"v":8.3e8},{"c":"BJ","yr":1980,"v":1.4e9},{"c":"BJ","yr":1985,"v":1.0e9},{"c":"BJ","yr":1990,"v":1.96e9},{"c":"BJ","yr":1995,"v":2.0e9},{"c":"BJ","yr":2000,"v":2.3e9},{"c":"BJ","yr":2005,"v":4.8e9},{"c":"BJ","yr":2010,"v":7.5e9},{"c":"BJ","yr":2015,"v":1.15e10},{"c":"BJ","yr":2020,"v":1.57e10},
{"c":"MG","yr":1960,"v":6.7e8},{"c":"MG","yr":1965,"v":8.7e8},{"c":"MG","yr":1970,"v":1.1e9},{"c":"MG","yr":1975,"v":2.3e9},{"c":"MG","yr":1980,"v":4.0e9},{"c":"MG","yr":1985,"v":2.9e9},{"c":"MG","yr":1990,"v":3.1e9},{"c":"MG","yr":1995,"v":3.2e9},{"c":"MG","yr":2000,"v":3.9e9},{"c":"MG","yr":2005,"v":5.0e9},{"c":"MG","yr":2010,"v":9.0e9},{"c":"MG","yr":2015,"v":1.1e10},{"c":"MG","yr":2020,"v":1.3e10},
{"c":"MR","yr":1960,"v":1.3e8},{"c":"MR","yr":1965,"v":1.9e8},{"c":"MR","yr":1970,"v":2.1e8},{"c":"MR","yr":1975,"v":4.7e8},{"c":"MR","yr":1980,"v":7.1e8},{"c":"MR","yr":1985,"v":6.9e8},{"c":"MR","yr":1990,"v":1.0e9},{"c":"MR","yr":1995,"v":1.3e9},{"c":"MR","yr":2000,"v":1.3e9},{"c":"MR","yr":2005,"v":2.2e9},{"c":"MR","yr":2010,"v":5.6e9},{"c":"MR","yr":2015,"v":6.2e9},{"c":"MR","yr":2020,"v":8.0e9},
{"c":"CG","yr":1960,"v":1.3e8},{"c":"CG","yr":1965,"v":2.0e8},{"c":"CG","yr":1970,"v":2.7e8},{"c":"CG","yr":1975,"v":7.8e8},{"c":"CG","yr":1980,"v":1.7e9},{"c":"CG","yr":1985,"v":2.1e9},{"c":"CG","yr":1990,"v":2.8e9},{"c":"CG","yr":1995,"v":2.0e9},{"c":"CG","yr":2000,"v":3.2e9},{"c":"CG","yr":2005,"v":6.1e9},{"c":"CG","yr":2010,"v":1.3e10},{"c":"CG","yr":2015,"v":1.2e10},{"c":"CG","yr":2020,"v":1.0e10},
{"c":"GA","yr":1960,"v":1.4e8},{"c":"GA","yr":1965,"v":2.3e8},{"c":"GA","yr":1970,"v":3.2e8},{"c":"GA","yr":1975,"v":1.5e9},{"c":"GA","yr":1980,"v":4.3e9},{"c":"GA","yr":1985,"v":3.8e9},{"c":"GA","yr":1990,"v":6.0e9},{"c":"GA","yr":1995,"v":5.2e9},{"c":"GA","yr":2000,"v":5.1e9},{"c":"GA","yr":2005,"v":9.6e9},{"c":"GA","yr":2010,"v":1.4e10},{"c":"GA","yr":2015,"v":1.4e10},{"c":"GA","yr":2020,"v":1.5e10},
{"c":"SV","yr":1960,"v":5.7e8},{"c":"SV","yr":1965,"v":8.0e8},{"c":"SV","yr":1970,"v":1.0e9},{"c":"SV","yr":1975,"v":1.7e9},{"c":"SV","yr":1980,"v":3.6e9},{"c":"SV","yr":1985,"v":3.8e9},{"c":"SV","yr":1990,"v":4.8e9},{"c":"SV","yr":1995,"v":9.5e9},{"c":"SV","yr":2000,"v":1.2e10},{"c":"SV","yr":2005,"v":1.7e10},{"c":"SV","yr":2010,"v":2.1e10},{"c":"SV","yr":2015,"v":2.3e10},{"c":"SV","yr":2020,"v":2.5e10},
{"c":"CR","yr":1960,"v":5.1e8},{"c":"CR","yr":1965,"v":7.0e8},{"c":"CR","yr":1970,"v":9.9e8},{"c":"CR","yr":1975,"v":1.9e9},{"c":"CR","yr":1980,"v":4.8e9},{"c":"CR","yr":1985,"v":3.9e9},{"c":"CR","yr":1990,"v":7.4e9},{"c":"CR","yr":1995,"v":1.2e10},{"c":"CR","yr":2000,"v":1.5e10},{"c":"CR","yr":2005,"v":2.0e10},{"c":"CR","yr":2010,"v":3.7e10},{"c":"CR","yr":2015,"v":5.6e10},{"c":"CR","yr":2020,"v":6.2e10},
{"c":"PA","yr":1960,"v":5.4e8},{"c":"PA","yr":1965,"v":7.7e8},{"c":"PA","yr":1970,"v":1.0e9},{"c":"PA","yr":1975,"v":2.0e9},{"c":"PA","yr":1980,"v":3.8e9},{"c":"PA","yr":1985,"v":5.4e9},{"c":"PA","yr":1990,"v":5.3e9},{"c":"PA","yr":1995,"v":8.0e9},{"c":"PA","yr":2000,"v":1.2e10},{"c":"PA","yr":2005,"v":1.5e10},{"c":"PA","yr":2010,"v":2.9e10},{"c":"PA","yr":2015,"v":5.4e10},{"c":"PA","yr":2020,"v":5.4e10},
{"c":"DO","yr":1960,"v":7.2e8},{"c":"DO","yr":1965,"v":9.5e8},{"c":"DO","yr":1970,"v":1.5e9},{"c":"DO","yr":1975,"v":3.6e9},{"c":"DO","yr":1980,"v":6.6e9},{"c":"DO","yr":1985,"v":5.0e9},{"c":"DO","yr":1990,"v":7.1e9},{"c":"DO","yr":1995,"v":1.5e10},{"c":"DO","yr":2000,"v":2.4e10},{"c":"DO","yr":2005,"v":3.6e10},{"c":"DO","yr":2010,"v":5.3e10},{"c":"DO","yr":2015,"v":7.1e10},{"c":"DO","yr":2020,"v":7.9e10},
{"c":"GT","yr":1960,"v":1.04e9},{"c":"GT","yr":1965,"v":1.3e9},{"c":"GT","yr":1970,"v":1.9e9},{"c":"GT","yr":1975,"v":3.6e9},{"c":"GT","yr":1980,"v":7.9e9},{"c":"GT","yr":1985,"v":1.1e10},{"c":"GT","yr":1990,"v":7.7e9},{"c":"GT","yr":1995,"v":1.5e10},{"c":"GT","yr":2000,"v":1.9e10},{"c":"GT","yr":2005,"v":2.7e10},{"c":"GT","yr":2010,"v":4.1e10},{"c":"GT","yr":2015,"v":6.3e10},{"c":"GT","yr":2020,"v":7.7e10},
{"c":"IS","yr":1960,"v":2.5e8},{"c":"IS","yr":1965,"v":4.8e8},{"c":"IS","yr":1970,"v":5.0e8},{"c":"IS","yr":1975,"v":1.4e9},{"c":"IS","yr":1980,"v":3.3e9},{"c":"IS","yr":1985,"v":2.9e9},{"c":"IS","yr":1990,"v":6.6e9},{"c":"IS","yr":1995,"v":7.1e9},{"c":"IS","yr":2000,"v":9.0e9},{"c":"IS","yr":2005,"v":1.7e10},{"c":"IS","yr":2010,"v":1.3e10},{"c":"IS","yr":2015,"v":1.7e10},{"c":"IS","yr":2020,"v":2.2e10},
{"c":"LU","yr":1960,"v":7.0e8},{"c":"LU","yr":1965,"v":9.6e8},{"c":"LU","yr":1970,"v":1.5e9},{"c":"LU","yr":1975,"v":3.0e9},{"c":"LU","yr":1980,"v":6.2e9},{"c":"LU","yr":1985,"v":5.0e9},{"c":"LU","yr":1990,"v":1.3e10},{"c":"LU","yr":1995,"v":2.0e10},{"c":"LU","yr":2000,"v":2.1e10},{"c":"LU","yr":2005,"v":3.8e10},{"c":"LU","yr":2010,"v":5.4e10},{"c":"LU","yr":2015,"v":6.0e10},{"c":"LU","yr":2020,"v":7.4e10},
{"c":"PY","yr":1960,"v":2.9e8},{"c":"PY","yr":1965,"v":4.4e8},{"c":"PY","yr":1970,"v":5.9e8},{"c":"PY","yr":1975,"v":1.3e9},{"c":"PY","yr":1980,"v":4.6e9},{"c":"PY","yr":1985,"v":3.0e9},{"c":"PY","yr":1990,"v":5.3e9},{"c":"PY","yr":1995,"v":9.0e9},{"c":"PY","yr":2000,"v":8.0e9},{"c":"PY","yr":2005,"v":8.7e9},{"c":"PY","yr":2010,"v":2.7e10},{"c":"PY","yr":2015,"v":3.6e10},{"c":"PY","yr":2020,"v":3.5e10},
{"c":"TN","yr":1965,"v":9.0e8},{"c":"TN","yr":1970,"v":1.4e9},{"c":"TN","yr":1975,"v":4.3e9},{"c":"TN","yr":1980,"v":8.7e9},{"c":"TN","yr":1985,"v":8.2e9},{"c":"TN","yr":1990,"v":1.3e10},{"c":"TN","yr":1995,"v":1.8e10},{"c":"TN","yr":2000,"v":2.1e10},{"c":"TN","yr":2005,"v":3.2e10},{"c":"TN","yr":2010,"v":4.4e10},{"c":"TN","yr":2015,"v":4.5e10},{"c":"TN","yr":2020,"v":4.2e10},
{"c":"EC","yr":1960,"v":1.0e9},{"c":"EC","yr":1965,"v":1.2e9},{"c":"EC","yr":1970,"v":1.6e9},{"c":"EC","yr":1975,"v":4.3e9},{"c":"EC","yr":1980,"v":1.2e10},{"c":"EC","yr":1985,"v":1.6e10},{"c":"EC","yr":1990,"v":1.5e10},{"c":"EC","yr":1995,"v":2.0e10},{"c":"EC","yr":2000,"v":1.8e10},{"c":"EC","yr":2005,"v":4.2e10},{"c":"EC","yr":2010,"v":7.0e10},{"c":"EC","yr":2015,"v":1.0e11},{"c":"EC","yr":2020,"v":9.9e10},
{"c":"BB","yr":1960,"v":9.0e7},{"c":"BB","yr":1965,"v":1.3e8},{"c":"BB","yr":1970,"v":2.0e8},{"c":"BB","yr":1975,"v":3.8e8},{"c":"BB","yr":1980,"v":8.6e8},{"c":"BB","yr":1985,"v":1.2e9},{"c":"BB","yr":1990,"v":1.7e9},{"c":"BB","yr":1995,"v":2.0e9},{"c":"BB","yr":2000,"v":2.9e9},{"c":"BB","yr":2005,"v":3.9e9},{"c":"BB","yr":2010,"v":4.5e9},{"c":"BB","yr":2015,"v":4.8e9},{"c":"BB","yr":2020,"v":4.4e9},
{"c":"BS","yr":1960,"v":1.7e8},{"c":"BS","yr":1965,"v":3.2e8},{"c":"BS","yr":1970,"v":5.4e8},{"c":"BS","yr":1975,"v":8.0e8},{"c":"BS","yr":1980,"v":1.3e9},{"c":"BS","yr":1985,"v":2.3e9},{"c":"BS","yr":1990,"v":3.2e9},{"c":"BS","yr":1995,"v":3.6e9},{"c":"BS","yr":2000,"v":6.3e9},{"c":"BS","yr":2005,"v":7.7e9},{"c":"BS","yr":2010,"v":1.0e10},{"c":"BS","yr":2015,"v":1.2e10},{"c":"BS","yr":2020,"v":9.7e9},
{"c":"AG","yr":1977,"v":1.0e8},{"c":"AG","yr":1980,"v":1.4e8},{"c":"AG","yr":1985,"v":2.6e8},{"c":"AG","yr":1990,"v":4.6e8},{"c":"AG","yr":1995,"v":5.9e8},{"c":"AG","yr":2000,"v":8.3e8},{"c":"AG","yr":2005,"v":1.1e9},{"c":"AG","yr":2010,"v":1.2e9},{"c":"AG","yr":2015,"v":1.4e9},{"c":"AG","yr":2020,"v":1.4e9},
{"c":"LC","yr":1977,"v":1.0e8},{"c":"LC","yr":1980,"v":1.8e8},{"c":"LC","yr":1985,"v":2.7e8},{"c":"LC","yr":1990,"v":4.9e8},{"c":"LC","yr":1995,"v":6.4e8},{"c":"LC","yr":2000,"v":8.2e8},{"c":"LC","yr":2005,"v":1.0e9},{"c":"LC","yr":2010,"v":1.5e9},{"c":"LC","yr":2015,"v":1.9e9},{"c":"LC","yr":2020,"v":1.6e9},
{"c":"GD","yr":1977,"v":6.0e7},{"c":"GD","yr":1980,"v":9.0e7},{"c":"GD","yr":1985,"v":1.4e8},{"c":"GD","yr":1990,"v":2.6e8},{"c":"GD","yr":1995,"v":3.4e8},{"c":"GD","yr":2000,"v":5.2e8},{"c":"GD","yr":2005,"v":6.9e8},{"c":"GD","yr":2010,"v":7.7e8},{"c":"GD","yr":2015,"v":9.9e8},{"c":"GD","yr":2020,"v":1.04e9},
{"c":"KN","yr":1977,"v":4.5e7},{"c":"KN","yr":1980,"v":7.0e7},{"c":"KN","yr":1985,"v":9.3e7},{"c":"KN","yr":1990,"v":1.8e8},{"c":"KN","yr":1995,"v":2.7e8},{"c":"KN","yr":2000,"v":4.0e8},{"c":"KN","yr":2005,"v":5.3e8},{"c":"KN","yr":2010,"v":7.2e8},{"c":"KN","yr":2015,"v":9.0e8},{"c":"KN","yr":2020,"v":9.3e8},
{"c":"VC","yr":1970,"v":2.4e7},{"c":"VC","yr":1975,"v":3.3e7},{"c":"VC","yr":1980,"v":6.0e7},{"c":"VC","yr":1985,"v":1.2e8},{"c":"VC","yr":1990,"v":2.0e8},{"c":"VC","yr":1995,"v":3.0e8},{"c":"VC","yr":2000,"v":3.9e8},{"c":"VC","yr":2005,"v":5.1e8},{"c":"VC","yr":2010,"v":6.8e8},{"c":"VC","yr":2015,"v":7.6e8},{"c":"VC","yr":2020,"v":7.9e8},
{"c":"DM","yr":1977,"v":4.0e7},{"c":"DM","yr":1980,"v":5.0e7},{"c":"DM","yr":1985,"v":9.0e7},{"c":"DM","yr":1990,"v":1.7e8},{"c":"DM","yr":1995,"v":2.2e8},{"c":"DM","yr":2000,"v":3.3e8},{"c":"DM","yr":2005,"v":3.6e8},{"c":"DM","yr":2010,"v":4.9e8},{"c":"DM","yr":2015,"v":5.2e8},{"c":"DM","yr":2020,"v":5.0e8},
{"c":"TO","yr":1975,"v":4.5e7},{"c":"TO","yr":1980,"v":6.5e7},{"c":"TO","yr":1985,"v":7.0e7},{"c":"TO","yr":1990,"v":1.1e8},{"c":"TO","yr":1995,"v":2.1e8},{"c":"TO","yr":2000,"v":2.0e8},{"c":"TO","yr":2005,"v":2.4e8},{"c":"TO","yr":2010,"v":3.7e8},{"c":"TO","yr":2015,"v":4.4e8},{"c":"TO","yr":2020,"v":5.3e8},
{"c":"VU","yr":1979,"v":1.1e8},{"c":"VU","yr":1985,"v":1.3e8},{"c":"VU","yr":1990,"v":1.6e8},{"c":"VU","yr":1995,"v":2.3e8},{"c":"VU","yr":2000,"v":2.7e8},{"c":"VU","yr":2005,"v":3.9e8},{"c":"VU","yr":2010,"v":7.0e8},{"c":"VU","yr":2015,"v":7.4e8},{"c":"VU","yr":2020,"v":8.6e8},
{"c":"WS","yr":1982,"v":1.1e8},{"c":"WS","yr":1985,"v":1.0e8},{"c":"WS","yr":1990,"v":1.2e8},{"c":"WS","yr":1995,"v":1.8e8},{"c":"WS","yr":2000,"v":2.6e8},{"c":"WS","yr":2005,"v":4.3e8},{"c":"WS","yr":2010,"v":6.4e8},{"c":"WS","yr":2015,"v":7.9e8},{"c":"WS","yr":2020,"v":8.1e8},
{"c":"SB","yr":1967,"v":3.3e7},{"c":"SB","yr":1970,"v":4.0e7},{"c":"SB","yr":1975,"v":7.5e7},{"c":"SB","yr":1980,"v":1.3e8},{"c":"SB","yr":1985,"v":1.8e8},{"c":"SB","yr":1990,"v":2.0e8},{"c":"SB","yr":1995,"v":3.6e8},{"c":"SB","yr":2000,"v":4.2e8},{"c":"SB","yr":2005,"v":4.1e8},{"c":"SB","yr":2010,"v":8.5e8},{"c":"SB","yr":2015,"v":1.3e9},{"c":"SB","yr":2020,"v":1.5e9},
{"c":"FM","yr":1986,"v":1.2e8},{"c":"FM","yr":1990,"v":1.5e8},{"c":"FM","yr":1995,"v":2.2e8},{"c":"FM","yr":2000,"v":2.3e8},{"c":"FM","yr":2005,"v":2.5e8},{"c":"FM","yr":2010,"v":3.0e8},{"c":"FM","yr":2015,"v":3.2e8},{"c":"FM","yr":2020,"v":4.0e8},
{"c":"PW","yr":2000,"v":1.5e8},{"c":"PW","yr":2003,"v":1.75e8},{"c":"PW","yr":2005,"v":1.7e8},{"c":"PW","yr":2010,"v":1.75e8},{"c":"PW","yr":2015,"v":1.8e8},{"c":"PW","yr":2020,"v":1.75e8},
{"c":"MH","yr":1981,"v":3.1e7},{"c":"MH","yr":1985,"v":4.5e7},{"c":"MH","yr":1990,"v":7.5e7},{"c":"MH","yr":1995,"v":1.2e8},{"c":"MH","yr":2000,"v":1.1e8},{"c":"MH","yr":2005,"v":1.4e8},{"c":"MH","yr":2010,"v":1.6e8},{"c":"MH","yr":2015,"v":1.8e8},{"c":"MH","yr":2020,"v":2.4e8},
{"c":"KI","yr":1970,"v":1.5e7},{"c":"KI","yr":1975,"v":3.4e7},{"c":"KI","yr":1980,"v":3.3e7},{"c":"KI","yr":1985,"v":3.3e7},{"c":"KI","yr":1990,"v":4.0e7},{"c":"KI","yr":1995,"v":6.5e7},{"c":"KI","yr":2000,"v":6.9e7},{"c":"KI","yr":2005,"v":1.1e8},{"c":"KI","yr":2010,"v":1.55e8},{"c":"KI","yr":2015,"v":2.8e8},{"c":"KI","yr":2020,"v":2.5e8},
{"c":"NR","yr":2010,"v":4.7e7},{"c":"NR","yr":2012,"v":9.6e7},{"c":"NR","yr":2014,"v":1.0e8},{"c":"NR","yr":2015,"v":9.0e7},{"c":"NR","yr":2016,"v":9.8e7},{"c":"NR","yr":2018,"v":1.22e8},{"c":"NR","yr":2020,"v":1.15e8},
{"c":"TV","yr":1990,"v":8.5e6},{"c":"TV","yr":1995,"v":1.1e7},{"c":"TV","yr":1999,"v":1.4e7},{"c":"TV","yr":2002,"v":2.2e7},{"c":"TV","yr":2004,"v":2.2e7},{"c":"TV","yr":2006,"v":3.0e7},{"c":"TV","yr":2007,"v":2.7e7},{"c":"TV","yr":2009,"v":3.9e7},{"c":"TV","yr":2013,"v":3.6e7},{"c":"TV","yr":2016,"v":4.2e7},{"c":"TV","yr":2020,"v":4.9e7},
{"c":"GM","yr":1966,"v":4.9e7},{"c":"GM","yr":1970,"v":5.4e7},{"c":"GM","yr":1975,"v":1.3e8},{"c":"GM","yr":1980,"v":2.4e8},{"c":"GM","yr":1985,"v":2.2e8},{"c":"GM","yr":1990,"v":3.2e8},{"c":"GM","yr":1995,"v":3.9e8},{"c":"GM","yr":2000,"v":7.8e8},{"c":"GM","yr":2005,"v":6.2e8},{"c":"GM","yr":2010,"v":1.5e9},{"c":"GM","yr":2015,"v":1.4e9},{"c":"GM","yr":2020,"v":1.8e9},
{"c":"BT","yr":1980,"v":1.4e8},{"c":"BT","yr":1985,"v":2.2e8},{"c":"BT","yr":1990,"v":3.0e8},{"c":"BT","yr":1995,"v":2.9e8},{"c":"BT","yr":2000,"v":4.4e8},{"c":"BT","yr":2005,"v":8.2e8},{"c":"BT","yr":2010,"v":1.6e9},{"c":"BT","yr":2015,"v":2.0e9},{"c":"BT","yr":2020,"v":2.3e9},
{"c":"CV","yr":1980,"v":1.0e8},{"c":"CV","yr":1985,"v":1.4e8},{"c":"CV","yr":1990,"v":3.4e8},{"c":"CV","yr":1995,"v":5.0e8},{"c":"CV","yr":2000,"v":5.4e8},{"c":"CV","yr":2005,"v":9.7e8},{"c":"CV","yr":2010,"v":1.66e9},{"c":"CV","yr":2015,"v":1.6e9},{"c":"CV","yr":2020,"v":1.7e9},
{"c":"SG","yr":1960,"v":7.0e8},{"c":"SG","yr":1965,"v":9.7e8},{"c":"SG","yr":1970,"v":1.9e9},{"c":"SG","yr":1975,"v":5.7e9},{"c":"SG","yr":1980,"v":1.2e10},{"c":"SG","yr":1985,"v":1.9e10},{"c":"SG","yr":1990,"v":3.9e10},{"c":"SG","yr":1995,"v":8.8e10},{"c":"SG","yr":2000,"v":9.6e10},{"c":"SG","yr":2005,"v":1.3e11},{"c":"SG","yr":2010,"v":2.4e11},{"c":"SG","yr":2015,"v":3.1e11},{"c":"SG","yr":2020,"v":3.5e11},
{"c":"HK","yr":1960,"v":1.3e9},{"c":"HK","yr":1965,"v":2.4e9},{"c":"HK","yr":1970,"v":3.8e9},{"c":"HK","yr":1975,"v":1.0e10},{"c":"HK","yr":1980,"v":2.9e10},{"c":"HK","yr":1985,"v":3.5e10},{"c":"HK","yr":1990,"v":7.7e10},{"c":"HK","yr":1995,"v":1.45e11},{"c":"HK","yr":2000,"v":1.7e11},{"c":"HK","yr":2005,"v":1.8e11},{"c":"HK","yr":2010,"v":2.3e11},{"c":"HK","yr":2015,"v":3.1e11},{"c":"HK","yr":2020,"v":3.5e11},
{"c":"VN","yr":1990,"v":6.5e9},{"c":"VN","yr":1995,"v":2.1e10},{"c":"VN","yr":2000,"v":3.1e10},{"c":"VN","yr":2005,"v":5.8e10},{"c":"VN","yr":2010,"v":1.16e11},{"c":"VN","yr":2015,"v":2.4e11},{"c":"VN","yr":2020,"v":3.4e11},
{"c":"UA","yr":1990,"v":8.1e10},{"c":"UA","yr":1995,"v":4.8e10},{"c":"UA","yr":2000,"v":3.1e10},{"c":"UA","yr":2005,"v":8.6e10},{"c":"UA","yr":2010,"v":1.4e11},{"c":"UA","yr":2015,"v":9.1e10},{"c":"UA","yr":2020,"v":1.56e11},
{"c":"KZ","yr":1990,"v":2.7e10},{"c":"KZ","yr":1995,"v":2.0e10},{"c":"KZ","yr":2000,"v":1.8e10},{"c":"KZ","yr":2005,"v":5.7e10},{"c":"KZ","yr":2010,"v":1.48e11},{"c":"KZ","yr":2015,"v":1.84e11},{"c":"KZ","yr":2020,"v":1.71e11},
{"c":"AE","yr":1975,"v":1.5e10},{"c":"AE","yr":1980,"v":4.4e10},{"c":"AE","yr":1985,"v":4.0e10},{"c":"AE","yr":1990,"v":5.1e10},{"c":"AE","yr":1995,"v":6.5e10},{"c":"AE","yr":2000,"v":1.04e11},{"c":"AE","yr":2005,"v":1.8e11},{"c":"AE","yr":2010,"v":2.9e11},{"c":"AE","yr":2015,"v":3.6e11},{"c":"AE","yr":2020,"v":3.5e11},
{"c":"KW","yr":1965,"v":2.1e9},{"c":"KW","yr":1970,"v":2.9e9},{"c":"KW","yr":1975,"v":1.2e10},{"c":"KW","yr":1980,"v":2.9e10},{"c":"KW","yr":1985,"v":2.1e10},{"c":"KW","yr":1990,"v":1.8e10},{"c":"KW","yr":1995,"v":2.7e10},{"c":"KW","yr":2000,"v":3.8e10},{"c":"KW","yr":2005,"v":8.0e10},{"c":"KW","yr":2010,"v":1.15e11},{"c":"KW","yr":2015,"v":1.15e11},{"c":"KW","yr":2020,"v":1.06e11},
{"c":"QA","yr":1970,"v":3.0e8},{"c":"QA","yr":1975,"v":2.5e9},{"c":"QA","yr":1980,"v":7.8e9},{"c":"QA","yr":1985,"v":6.2e9},{"c":"QA","yr":1990,"v":7.4e9},{"c":"QA","yr":1995,"v":8.1e9},{"c":"QA","yr":2000,"v":1.8e10},{"c":"QA","yr":2005,"v":4.5e10},{"c":"QA","yr":2010,"v":1.25e11},{"c":"QA","yr":2015,"v":1.6e11},{"c":"QA","yr":2020,"v":1.45e11},
{"c":"CZ","yr":1990,"v":4.0e10},{"c":"CZ","yr":1995,"v":6.1e10},{"c":"CZ","yr":2000,"v":6.2e10},{"c":"CZ","yr":2005,"v":1.37e11},{"c":"CZ","yr":2010,"v":2.1e11},{"c":"CZ","yr":2015,"v":1.9e11},{"c":"CZ","yr":2020,"v":2.45e11},
{"c":"ET","yr":1985,"v":1.0e10},{"c":"ET","yr":1990,"v":1.2e10},{"c":"ET","yr":1995,"v":8.0e9},{"c":"ET","yr":2000,"v":8.0e9},{"c":"ET","yr":2005,"v":1.25e10},{"c":"ET","yr":2010,"v":2.95e10},{"c":"ET","yr":2015,"v":6.4e10},{"c":"ET","yr":2020,"v":1.07e11},
{"c":"ZW","yr":1960,"v":1.05e9},{"c":"ZW","yr":1965,"v":1.4e9},{"c":"ZW","yr":1970,"v":2.0e9},{"c":"ZW","yr":1975,"v":4.6e9},{"c":"ZW","yr":1980,"v":6.7e9},{"c":"ZW","yr":1985,"v":5.3e9},{"c":"ZW","yr":1990,"v":8.8e9},{"c":"ZW","yr":1995,"v":7.1e9},{"c":"ZW","yr":2000,"v":6.7e9},{"c":"ZW","yr":2005,"v":5.8e9},{"c":"ZW","yr":2010,"v":1.2e10},{"c":"ZW","yr":2015,"v":2.0e10},{"c":"ZW","yr":2020,"v":2.2e10},
{"c":"AO","yr":1980,"v":5.9e9},{"c":"AO","yr":1985,"v":8.5e9},{"c":"AO","yr":1990,"v":1.2e10},{"c":"AO","yr":1995,"v":5.0e9},{"c":"AO","yr":2000,"v":9.1e9},{"c":"AO","yr":2005,"v":3.7e10},{"c":"AO","yr":2010,"v":8.4e10},{"c":"AO","yr":2015,"v":1.16e11},{"c":"AO","yr":2020,"v":5.7e10},
{"c":"OM","yr":1964,"v":2.6e7},{"c":"OM","yr":1965,"v":4.5e7},{"c":"OM","yr":1967,"v":1.2e8},{"c":"OM","yr":1970,"v":2.6e8},{"c":"OM","yr":1975,"v":2.1e9},{"c":"OM","yr":1980,"v":6.3e9},{"c":"OM","yr":1985,"v":1.0e10},{"c":"OM","yr":1990,"v":1.2e10},{"c":"OM","yr":1995,"v":1.4e10},{"c":"OM","yr":2000,"v":2.0e10},{"c":"OM","yr":2005,"v":3.1e10},{"c":"OM","yr":2010,"v":6.5e10},{"c":"OM","yr":2015,"v":7.8e10},{"c":"OM","yr":2020,"v":7.4e10}
],
"tr":[
{"yr":1960,"v":1.39e10},{"yr":1961,"v":7.9e9},{"yr":1962,"v":8.8e9},{"yr":1963,"v":1.01e10},{"yr":1964,"v":1.09e10},{"yr":1965,"v":1.16e10},{"yr":1966,"v":1.38e10},{"yr":1967,"v":1.53e10},{"yr":1968,"v":1.71e10},{"yr":1969,"v":1.91e10},{"yr":1970,"v":1.69e10},{"yr":1971,"v":1.61e10},{"yr":1972,"v":2.0e10},{"yr":1973,"v":2.52e10},{"yr":1974,"v":3.5e10},{"yr":1975,"v":4.4e10},{"yr":1976,"v":5.06e10},{"yr":1977,"v":5.79e10},{"yr":1978,"v":6.43e10},{"yr":1979,"v":8.85e10},{"yr":1980,"v":6.8e10},{"yr":1981,"v":7.03e10},{"yr":1982,"v":6.37e10},{"yr":1983,"v":6.06e10},{"yr":1984,"v":5.86e10},{"yr":1985,"v":6.56e10},{"yr":1986,"v":7.39e10},{"yr":1987,"v":8.53e10},{"yr":1988,"v":8.87e10},{"yr":1989,"v":1.046e11},{"yr":1990,"v":1.479e11},{"yr":1991,"v":1.476e11},{"yr":1992,"v":1.553e11},{"yr":1993,"v":1.765e11},{"yr":1994,"v":1.3e11},{"yr":1995,"v":1.666e11},{"yr":1996,"v":1.796e11},{"yr":1997,"v":1.884e11},{"yr":1998,"v":2.728e11},{"yr":1999,"v":2.522e11},{"yr":2000,"v":2.68e11},{"yr":2001,"v":1.9e11},{"yr":2002,"v":2.337e11},{"yr":2003,"v":3.072e11},{"yr":2004,"v":4.002e11},{"yr":2005,"v":4.956e11},{"yr":2006,"v":5.461e11},{"yr":2007,"v":6.681e11},{"yr":2008,"v":7.545e11},{"yr":2009,"v":6.2e11},{"yr":2010,"v":7.652e11},{"yr":2011,"v":8.225e11},{"yr":2012,"v":8.631e11},{"yr":2013,"v":9.452e11},{"yr":2014,"v":9.283e11},{"yr":2015,"v":8.55e11},{"yr":2016,"v":8.582e11},{"yr":2017,"v":8.494e11},{"yr":2018,"v":7.687e11},{"yr":2019,"v":7.482e11},{"yr":2020,"v":7.199e11}
],
"wd":[
{"yr":1960,"v":1.39e12},{"yr":1961,"v":1.44e12},{"yr":1962,"v":1.54e12},{"yr":1963,"v":1.65e12},{"yr":1964,"v":1.8e12},{"yr":1965,"v":1.96e12},{"yr":1966,"v":2.13e12},{"yr":1967,"v":2.26e12},{"yr":1968,"v":2.43e12},{"yr":1969,"v":2.67e12},{"yr":1970,"v":2.96e12},{"yr":1971,"v":3.27e12},{"yr":1972,"v":3.77e12},{"yr":1973,"v":4.59e12},{"yr":1974,"v":5.3e12},{"yr":1975,"v":5.9e12},{"yr":1976,"v":6.42e12},{"yr":1977,"v":7.26e12},{"yr":1978,"v":8.54e12},{"yr":1979,"v":9.93e12},{"yr":1980,"v":1.123e13},{"yr":1981,"v":1.157e13},{"yr":1982,"v":1.144e13},{"yr":1983,"v":1.163e13},{"yr":1984,"v":1.207e13},{"yr":1985,"v":1.27e13},{"yr":1986,"v":1.504e13},{"yr":1987,"v":1.718e13},{"yr":1988,"v":1.919e13},{"yr":1989,"v":2.008e13},{"yr":1990,"v":2.26e13},{"yr":1991,"v":2.393e13},{"yr":1992,"v":2.546e13},{"yr":1993,"v":2.586e13},{"yr":1994,"v":2.777e13},{"yr":1995,"v":3.087e13},{"yr":1996,"v":3.154e13},{"yr":1997,"v":3.145e13},{"yr":1998,"v":3.135e13},{"yr":1999,"v":3.252e13},{"yr":2000,"v":3.383e13},{"yr":2001,"v":3.358e13},{"yr":2002,"v":3.488e13},{"yr":2003,"v":3.914e13},{"yr":2004,"v":4.381e13},{"yr":2005,"v":4.745e13},{"yr":2006,"v":5.144e13},{"yr":2007,"v":5.799e13},{"yr":2008,"v":6.361e13},{"yr":2009,"v":6.033e13},{"yr":2010,"v":6.605e13},{"yr":2011,"v":7.338e13},{"yr":2012,"v":7.505e13},{"yr":2013,"v":7.719e13},{"yr":2014,"v":7.933e13},{"yr":2015,"v":7.505e13},{"yr":2016,"v":7.616e13},{"yr":2017,"v":8.123e13},{"yr":2018,"v":8.63e13},{"yr":2019,"v":8.765e13},{"yr":2020,"v":8.47e13}
],
"conn":[
{"g":"a","k":"wd","o":1,"yr":1963.7,"v":4.19e12},{"g":"a","k":"wd","o":2,"yr":1960,"v":1.39e12},
{"g":"b","k":"tr","o":1,"yr":1963.6,"v":2.98e10},{"g":"b","k":"tr","o":2,"yr":1960,"v":1.39e10},
{"g":"c","k":"wd","o":1,"yr":2019.44,"v":2.34e14},{"g":"c","k":"wd","o":2,"yr":2019.75,"v":2.34e14},{"g":"c","k":"wd","o":3,"yr":2020,"v":8.47e13},
{"g":"d","k":"tr","o":1,"yr":2019.65,"v":2.51e12},{"g":"d","k":"tr","o":2,"yr":2019.85,"v":2.51e12},{"g":"d","k":"tr","o":3,"yr":2020,"v":7.199e11}
],
"boxes":[
{"k":"wd","x1":1959.77,"x2":1967.58,"v1":4.34e12,"v2":1.34e13},
{"k":"tr","x1":1959.77,"x2":1967.58,"v1":2.98e10,"v2":9.5e10},
{"k":"wd","x1":2011.41,"x2":2019.44,"v1":1.36e14,"v2":4.05e14},
{"k":"tr","x1":2011.67,"x2":2019.65,"v1":1.46e12,"v2":4.49e12},
{"k":"tr","x1":1959.82,"x2":1966.57,"v1":1.79e6,"v2":2.64e7},
{"k":"wd","x1":1967.0,"x2":1973.75,"v1":1.79e6,"v2":2.64e7}
],
"labels":[
{"t":"1,4 Trilyon $","yr":1963.67,"v":7.11e12},
{"t":"13,9 Milyar $","yr":1963.67,"v":4.89e10},
{"t":"84,7 Trilyon $","yr":2015.42,"v":2.24e14},
{"t":"719,9 Milyar $","yr":2015.66,"v":2.32e12},
{"t":"Türkiye","yr":1963.2,"v":1.25e7},
{"t":"Ekonomisi","yr":1963.2,"v":5.14e6},
{"t":"Dünya","yr":1970.38,"v":1.25e7},
{"t":"Ekonomisi","yr":1970.38,"v":5.14e6}
]
},
"layer":[
{"data":{"name":"gray"},
"mark":{"type":"line","color":"#d9d9d9","strokeWidth":2.6,"strokeJoin":"round","strokeCap":"round"},
"encoding":{
"x":{"field":"yr","type":"quantitative","title":null,"scale":{"domain":[1959.5,2020.5],"nice":false,"zero":false},
"axis":{"values":[1960,1961,1962,1963,1964,1965,1966,1967,1968,1969,1970,1971,1972,1973,1974,1975,1976,1977,1978,1979,1980,1981,1982,1983,1984,1985,1986,1987,1988,1989,1990,1991,1992,1993,1994,1995,1996,1997,1998,1999,2000,2001,2002,2003,2004,2005,2006,2007,2008,2009,2010,2011,2012,2013,2014,2015,2016,2017,2018,2019,2020],"tickCount":100,"format":"d","labelAngle":-90,"labelFontSize":10,"labelColor":"#707070","labelPadding":6,"labelOverlap":false,"labelFlush":false,"labelBound":false,"grid":false}},
"y":{"field":"v","type":"quantitative","title":null,"scale":{"type":"log","domain":[1e6,1e14],"nice":false},
"axis":{"values":[1e6,1e7,1e8,1e9,1e10,1e11,1e12,1e13,1e14],"format":",d","labelFontSize":9,"labelColor":"#666666","labelPadding":9,"grid":true,"gridColor":"#e8e8e8","gridWidth":1.5,"labelOverlap":false}},
"detail":{"field":"c"}}},
{"data":{"name":"tr"},
"mark":{"type":"line","color":"#f04e23","strokeWidth":8,"strokeJoin":"round","strokeCap":"round","interpolate":"monotone"},
"encoding":{"x":{"field":"yr","type":"quantitative","title":null},"y":{"field":"v","type":"quantitative","title":null}}},
{"data":{"name":"wd"},
"mark":{"type":"line","color":"#1c4587","strokeWidth":7.5,"strokeDash":[20,31],"strokeCap":"round","interpolate":"monotone"},
"encoding":{"x":{"field":"yr","type":"quantitative","title":null},"y":{"field":"v","type":"quantitative","title":null}}},
{"data":{"name":"conn"},
"mark":{"type":"line","strokeWidth":1},
"encoding":{"x":{"field":"yr","type":"quantitative","title":null},"y":{"field":"v","type":"quantitative","title":null},"detail":{"field":"g"},"order":{"field":"o"},
"color":{"field":"k","type":"nominal","scale":{"domain":["tr","wd"],"range":["#f04e23","#1c4587"]},"legend":null}}},
{"data":{"name":"boxes"},
"mark":{"type":"rect","cornerRadius":5},
"encoding":{"x":{"field":"x1","type":"quantitative","title":null},"x2":{"field":"x2"},"y":{"field":"v1","type":"quantitative","title":null},"y2":{"field":"v2"},
"color":{"field":"k","type":"nominal","scale":{"domain":["tr","wd"],"range":["#f04e23","#1c4587"]},"legend":null}}},
{"data":{"name":"labels"},
"mark":{"type":"text","color":"white","fontWeight":"bold","fontSize":20,"align":"center","baseline":"middle","font":"Liberation Sans, Arial, sans-serif"},
"encoding":{"x":{"field":"yr","type":"quantitative","title":null},"y":{"field":"v","type":"quantitative","title":null},"text":{"field":"t"}}}
]
}
